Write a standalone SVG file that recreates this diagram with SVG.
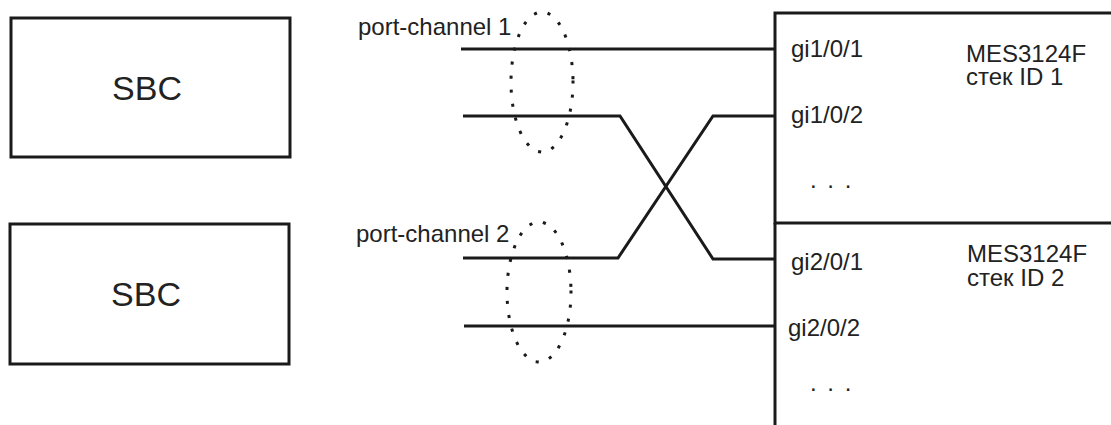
<svg xmlns="http://www.w3.org/2000/svg" width="1111" height="425" viewBox="0 0 1111 425">
<style>
.box{fill:#fff;stroke:#1a1a1a;stroke-width:3}
.ln{fill:none;stroke:#1a1a1a;stroke-width:3}
.el{fill:none;stroke:#1a1a1a;stroke-width:3;stroke-dasharray:0.1 14;stroke-linecap:square}
.t{font-family:"Liberation Sans",Arial,sans-serif;fill:#222}
.big{font-size:34px}
.m{font-size:24px}
</style>
<rect width="1111" height="425" fill="#fff"/>
<g id="sbc1"><rect class="box" x="11" y="18" width="279" height="139"/><text class="t big" x="147" y="100" text-anchor="middle">SBC</text></g>
<g id="sbc2"><rect class="box" x="10" y="224" width="279" height="140"/><text class="t big" x="146" y="306" text-anchor="middle">SBC</text></g>
<g id="switch1">
<path class="ln" d="M1113,13 H775 V223 H1113"/>
<text class="t m" x="791" y="57">gi1/0/1</text>
<text class="t m" x="791" y="123">gi1/0/2</text>
<text class="t m" x="810" y="188" letter-spacing="2">. . .</text>
<text class="t m" x="966" y="62"><tspan x="966">MES3124F</tspan><tspan x="966" dy="23">стек ID 1</tspan></text>
</g>
<g id="switch2">
<path class="ln" d="M775,223 V430"/>
<text class="t m" x="791" y="270">gi2/0/1</text>
<text class="t m" x="788" y="336">gi2/0/2</text>
<text class="t m" x="810" y="391" letter-spacing="2">. . .</text>
<text class="t m" x="967" y="262"><tspan x="967">MES3124F</tspan><tspan x="967" dy="24">стек ID 2</tspan></text>
</g>
<g id="connectors">
<path class="ln" d="M461,49 H775"/>
<path class="ln" d="M463,116 H620 L713,259 H775"/>
<path class="ln" d="M463,258 H618 L713,116 H775"/>
<path class="ln" d="M464,326 H775"/>
</g>
<g id="pc1"><ellipse class="el" cx="542" cy="82" rx="31" ry="70"/><text class="t m" x="358" y="35">port-channel 1</text></g>
<g id="pc2"><ellipse class="el" cx="539" cy="292" rx="32" ry="70"/><text class="t m" x="356" y="242">port-channel 2</text></g>
</svg>
